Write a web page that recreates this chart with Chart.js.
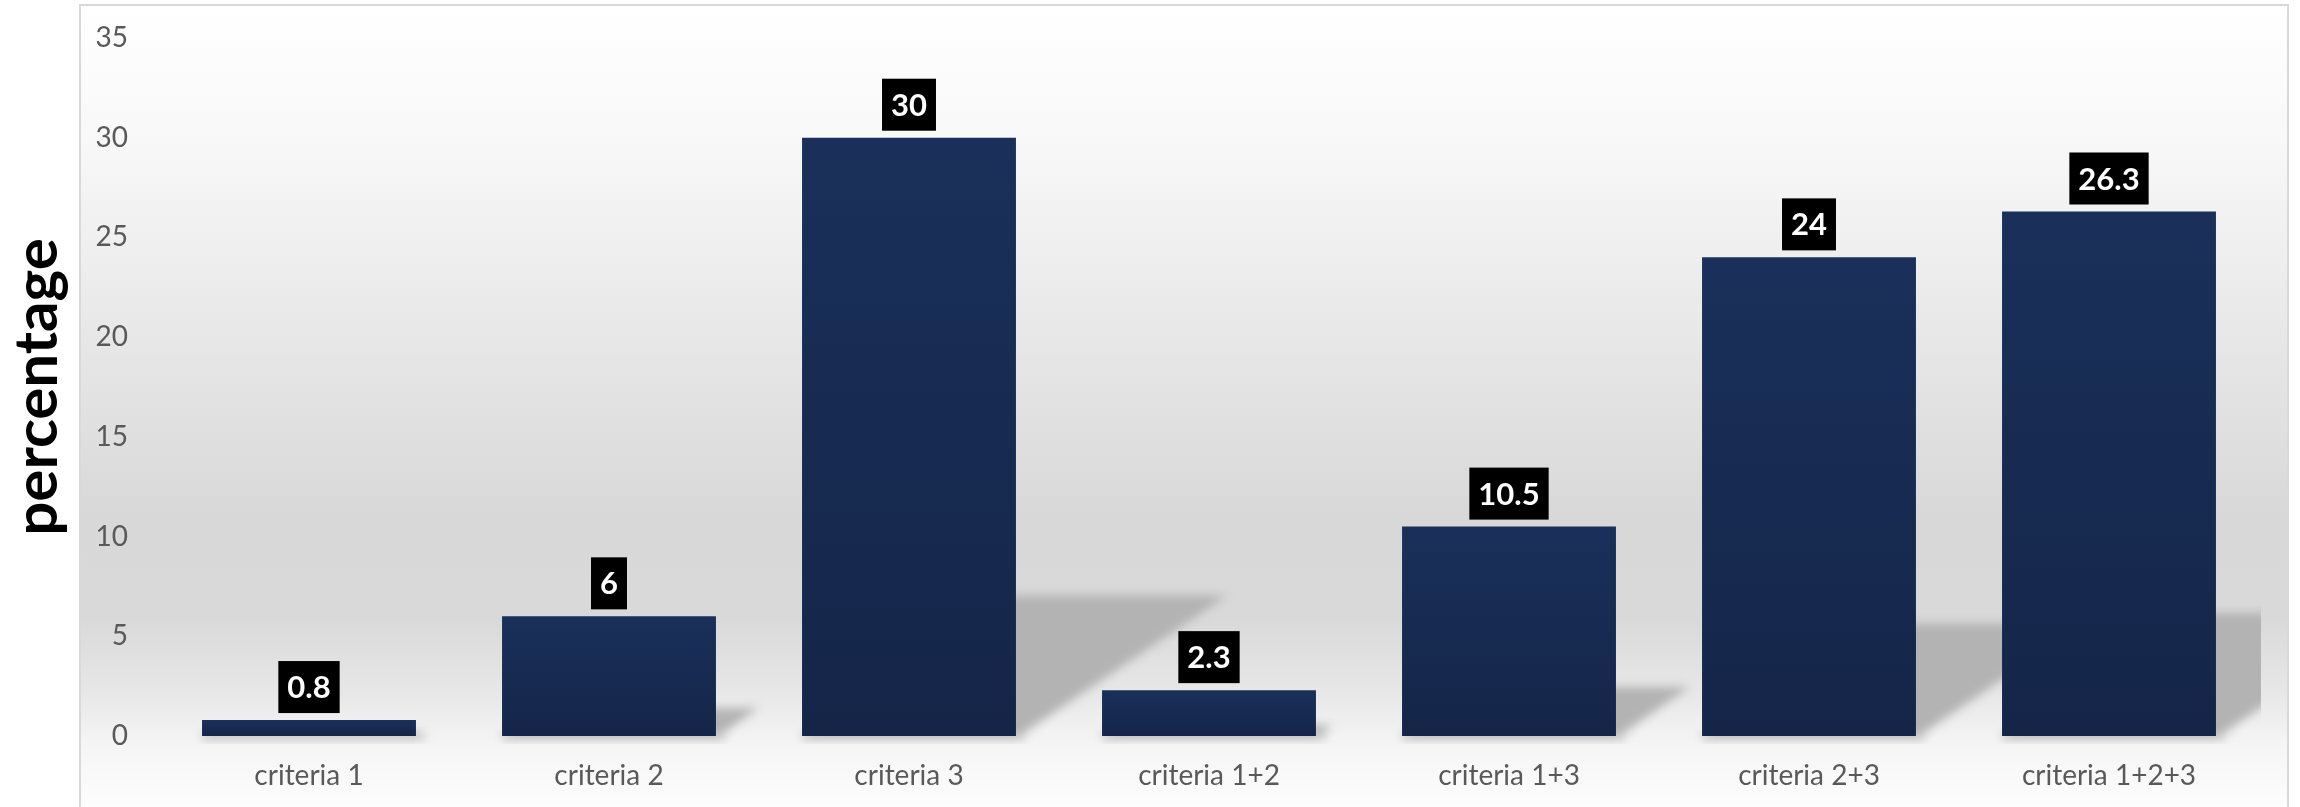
<!DOCTYPE html>
<html><head><meta charset="utf-8">
<script src="https://cdn.jsdelivr.net/npm/chart.js@4.4.1/dist/chart.umd.min.js"></script>
<style>html,body{margin:0;padding:0;background:#fff;overflow:hidden}#wrap{width:2300px;height:807px;position:relative}</style>
</head><body><div id="wrap"><canvas id="c" width="2300" height="807"></canvas></div>
<script>
const categories = ['criteria 1', 'criteria 2', 'criteria 3', 'criteria 1+2', 'criteria 1+3', 'criteria 2+3', 'criteria 1+2+3'];
const values = [0.8, 6, 30, 2.3, 10.5, 24, 26.3];
const yMin = 0, yMax = 35, yStep = 5;
const yTitle = 'percentage';

const FONT = 'Lato, "Open Sans", sans-serif';

const bgPlugin = {
  id: 'bg',
  beforeDraw(chart) {
    const ctx = chart.ctx, W = chart.width, H = chart.height;
    ctx.save();
    ctx.fillStyle = '#ffffff';
    ctx.fillRect(0, 0, W, H);
    const x0 = 80, y0 = 5, x1 = 2288;
    const g = ctx.createLinearGradient(0, y0, 0, H);
    const stops = [[5,'#ffffff'],[140,'#f8f8f8'],[330,'#e8e8e8'],[520,'#d8d8d8'],[620,'#d9d9d9'],[700,'#e9e9e9'],[745,'#f5f5f5'],[807,'#fdfdfd']];
    stops.forEach(([y,c]) => g.addColorStop((y - y0) / (H - y0), c));
    ctx.fillStyle = g;
    ctx.fillRect(x0, y0, x1 - x0, H - y0);
    ctx.strokeStyle = '#d9d9d9';
    ctx.lineWidth = 2;
    ctx.beginPath();
    ctx.moveTo(x0, H + 5); ctx.lineTo(x0, y0); ctx.lineTo(x1, y0); ctx.lineTo(x1, H + 5);
    ctx.stroke();
    ctx.restore();
  }
};

const shadowPlugin = {
  id: 'barShadow',
  beforeDatasetsDraw(chart) {
    const ctx = chart.ctx, area = chart.chartArea;
    const meta = chart.getDatasetMeta(0);
    ctx.save();
    ctx.beginPath();
    ctx.rect(area.left, area.top, area.right - area.left + 2, area.bottom - area.top + 8);
    ctx.clip();
    ctx.filter = 'blur(5px)';
    ctx.fillStyle = '#b3b3b3';
    meta.data.forEach(el => {
      const L = el.x - el.width / 2, R = el.x + el.width / 2;
      const h = el.base - el.y;
      const sh = 0.235 * h, s = 1.5 * sh;
      ctx.beginPath();
      ctx.moveTo(L, el.base);
      ctx.lineTo(R + 3, el.base);
      ctx.lineTo(R + s, el.base - sh);
      ctx.lineTo(L + s, el.base - sh);
      ctx.closePath();
      ctx.fill();
      ctx.fillStyle = 'rgba(170,170,170,0.5)';
      ctx.fillRect(L, el.base - 2, R - L + 10, 6);
      ctx.fillStyle = '#b3b3b3';
    });
    ctx.restore();
  }
};

const labelPlugin = {
  id: 'boxLabels',
  afterDatasetsDraw(chart) {
    const ctx = chart.ctx;
    const meta = chart.getDatasetMeta(0);
    ctx.save();
    ctx.font = 'bold 31px ' + FONT;
    ctx.textAlign = 'center';
    ctx.textBaseline = 'middle';
    meta.data.forEach((el, i) => {
      const txt = String(chart.data.datasets[0].data[i]);
      const w = ctx.measureText(txt).width + 18;
      const bh = 52;
      const bottom = el.y - 7;
      ctx.fillStyle = '#000000';
      ctx.fillRect(el.x - w / 2, bottom - bh, w, bh);
      ctx.fillStyle = '#ffffff';
      ctx.fillText(txt, el.x, bottom - bh / 2 + 1);
    });
    ctx.restore();
  }
};

new Chart(document.getElementById('c'), {
  type: 'bar',
  data: {
    labels: categories,
    datasets: [{
      data: values,
      backgroundColor: (c) => {
        const chart = c.chart, ys = chart.scales && chart.scales.y;
        if (!ys || !chart.chartArea || c.dataIndex === undefined) return '#182d56';
        const top = ys.getPixelForValue(values[c.dataIndex]);
        const bot = ys.getPixelForValue(0);
        const g = chart.ctx.createLinearGradient(0, top, 0, bot);
        g.addColorStop(0, '#1a305a');
        g.addColorStop(1, '#142548');
        return g;
      },
      borderWidth: 0,
      categoryPercentage: 1,
      barPercentage: 0.713
    }]
  },
  options: {
    responsive: false,
    devicePixelRatio: 1,
    animation: false,
    layout: { padding: { top: 38, right: 41, left: 0, bottom: 0 } },
    plugins: { legend: { display: false }, tooltip: { enabled: false } },
    scales: {
      x: {
        grid: { display: false, drawTicks: false },
        border: { display: false },
        ticks: { color: '#595959', font: { family: FONT, size: 28 }, padding: 23 },
        afterFit: (s) => { s.height = 71; }
      },
      y: {
        min: yMin, max: yMax,
        grid: { display: false, drawTicks: false },
        border: { display: false },
        ticks: { stepSize: yStep, color: '#595959', font: { family: FONT, size: 28 }, padding: 31 },
        title: { display: true, text: yTitle, color: '#000000', font: { family: FONT, size: 60, weight: 'bold', lineHeight: 1 }, padding: { top: 8, bottom: 0 } },
        afterFit: (s) => { s.width = 159; s.paddingTop = 0; s.paddingBottom = 0; }
      }
    }
  },
  plugins: [bgPlugin, shadowPlugin, labelPlugin]
});
</script>
</body></html>
